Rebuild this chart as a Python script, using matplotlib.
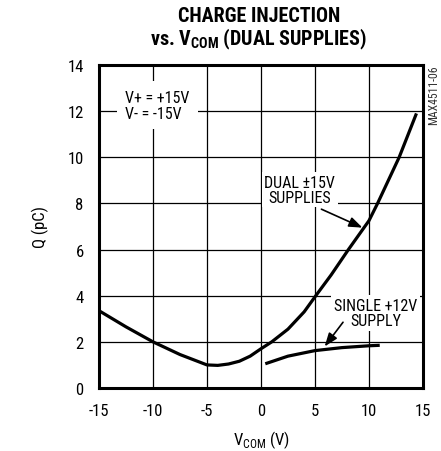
import matplotlib
matplotlib.use("Agg")
import matplotlib.pyplot as plt
from matplotlib import font_manager

# pick a narrow sans if one is installed, else Liberation Sans
names = set(f.name for f in font_manager.fontManager.ttflist)
font = 'Liberation Sans'
narrow = False
for cand in ['Liberation Sans Narrow', 'Roboto Condensed', 'Open Sans Condensed',
             'DejaVu Sans Condensed']:
    if cand in names:
        font = cand
        narrow = True
        break

plt.rcParams['font.family'] = [font, 'Liberation Sans', 'DejaVu Sans']
plt.rcParams['axes.unicode_minus'] = False
plt.rcParams['mathtext.fontset'] = 'custom'
plt.rcParams['mathtext.rm'] = font
plt.rcParams['mathtext.bf'] = font + ':bold'

# dual +/-15V supplies
dual_v = [-15, -12.5, -10, -7.5, -6, -5, -4, -3, -2, -1, 0, 1, 2.5, 4, 5,
          6.5, 8.1, 10, 10.8, 12.8, 14.4]
dual_q = [3.35, 2.65, 2.0, 1.45, 1.18, 1.0, 0.98, 1.04, 1.16, 1.38, 1.7, 2.0, 2.55,
          3.3, 3.95, 4.9, 6.0, 7.25, 8.0, 10.0, 11.9]

# single +12V supply
single_v = [0.4, 2.5, 5, 7.5, 10, 11]
single_q = [1.05, 1.38, 1.62, 1.75, 1.83, 1.85]

xticks = [-15, -10, -5, 0, 5, 10, 15]
yticks = [0, 2, 4, 6, 8, 10, 12, 14]

fs = 12 if narrow else 10.5
afs = 11.5 if narrow else 10
tfs = 14.5 if narrow else 12

fig = plt.figure(figsize=(4.41, 4.52), dpi=100)
ax = fig.add_axes([0.2245, 0.1394, 0.7345, 0.7146])

ax.plot(dual_v, dual_q, color='black', lw=2.3, solid_capstyle='butt', zorder=3)
ax.plot(single_v, single_q, color='black', lw=2.3, solid_capstyle='butt', zorder=3)

ax.set_xlim(-15, 15)
ax.set_ylim(0, 14)
ax.set_xticks(xticks)
ax.set_yticks(yticks)
ax.tick_params(axis='x', length=0, labelsize=fs, pad=11)
ax.tick_params(axis='y', length=0, labelsize=fs, pad=11)
ax.grid(True, color='black', lw=0.9)
for s in ax.spines.values():
    s.set_linewidth(2.2)

ax.set_xlabel(r'V$_{\mathrm{COM}}$ (V)', fontsize=fs, labelpad=7)
ax.set_ylabel('Q (pC)', fontsize=fs, labelpad=13)

box = dict(facecolor='white', edgecolor='none', pad=2)
ax.text(-12.6, 12.25, 'V+ = +15V\nV- = -15V', fontsize=afs, ha='left', va='center',
        linespacing=1.1, bbox=dict(facecolor='white', edgecolor='none', pad=6), zorder=4)
ax.text(3.6, 8.6, 'DUAL \u00b115V\nSUPPLIES', fontsize=afs, ha='center', va='center',
        linespacing=1.0, bbox=box, zorder=4)
ax.text(10.6, 3.25, 'SINGLE +12V\nSUPPLY', fontsize=afs, ha='center', va='center',
        linespacing=1.0, bbox=box, zorder=4)

arrow = dict(arrowstyle='-|>,head_length=0.8,head_width=0.3', color='black', lw=1.2,
             shrinkA=0, shrinkB=0)
ax.annotate('', xy=(9.4, 6.95), xytext=(5.6, 7.75), arrowprops=arrow, zorder=5)
ax.annotate('', xy=(5.9, 1.8), xytext=(7.6, 2.85), arrowprops=arrow, zorder=5)

fig.text(0.587, 0.963, 'CHARGE INJECTION', fontsize=tfs, fontweight='bold',
         ha='center', va='center')
fig.text(0.587, 0.912, r'vs. V$_{\mathbf{COM}}$ (DUAL SUPPLIES)', fontsize=tfs,
         fontweight='bold', ha='center', va='center')
fig.text(0.983, 0.79, 'MAX4511-06', fontsize=8.5, rotation=90, ha='center', va='center',
         color='#333333')

fig.savefig('out.png', dpi=100)
